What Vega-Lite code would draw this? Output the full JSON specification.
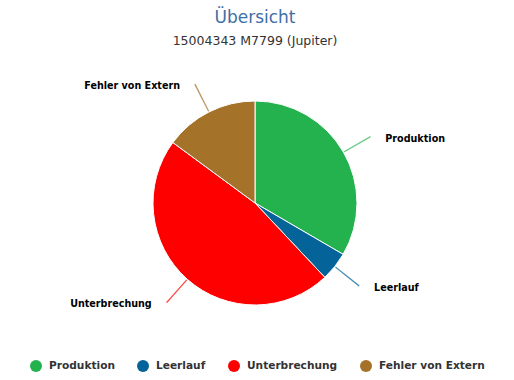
{
  "$schema": "https://vega.github.io/schema/vega-lite/v6.json",
  "width": 510,
  "height": 286,
  "autosize": "none",
  "padding": {"top": 60, "left": 0, "right": 4, "bottom": 34},
  "background": "white",
  "title": {
    "text": "Übersicht",
    "subtitle": "15004343 M7799 (Jupiter)",
    "anchor": "middle",
    "frame": "group",
    "font": "DejaVu Sans",
    "fontSize": 17,
    "fontWeight": "normal",
    "color": "#3d6fa6",
    "subtitleFont": "DejaVu Sans",
    "subtitleFontSize": 12.5,
    "subtitleColor": "#333333",
    "subtitlePadding": 8,
    "offset": 12
  },
  "data": {
    "values": [
      {"kategorie": "Produktion", "wert": 33.4, "reihenfolge": 1},
      {"kategorie": "Leerlauf", "wert": 4.6, "reihenfolge": 2},
      {"kategorie": "Unterbrechung", "wert": 47.1, "reihenfolge": 3},
      {"kategorie": "Fehler von Extern", "wert": 14.9, "reihenfolge": 4}
    ]
  },
  "transform": [
    {"window": [{"op": "sum", "field": "wert", "as": "kum"}], "sort": [{"field": "reihenfolge"}], "frame": [null, 0]},
    {"calculate": "datum.kum - datum.wert / 2", "as": "mitte"},
    {"calculate": "datum.mitte - 0.05", "as": "mitte_a"},
    {"calculate": "datum.mitte + 0.05", "as": "mitte_b"},
    {"calculate": "datum.mitte < 50 ? 'rechts' : 'links'", "as": "seite"}
  ],
  "config": {"view": {"stroke": null}},
  "layer": [
    {
      "mark": {"type": "arc", "outerRadius": 102, "stroke": "white", "strokeWidth": 1},
      "encoding": {
        "theta": {"field": "wert", "type": "quantitative", "stack": true, "scale": {"domain": [0, 100]}},
        "order": {"field": "reihenfolge", "type": "quantitative"},
        "color": {
          "field": "kategorie",
          "type": "nominal",
          "sort": ["Produktion", "Leerlauf", "Unterbrechung", "Fehler von Extern"],
          "scale": {
            "domain": ["Produktion", "Leerlauf", "Unterbrechung", "Fehler von Extern"],
            "range": ["#24b24f", "#046398", "#ff0000", "#a5722a"]
          },
          "legend": {
            "orient": "none",
            "legendX": 30,
            "legendY": 300,
            "direction": "horizontal",
            "title": null,
            "symbolType": "circle",
            "symbolSize": 144,
            "symbolStrokeWidth": 0,
            "symbolOpacity": 1,
            "labelFont": "DejaVu Sans",
            "labelFontWeight": "bold",
            "labelFontSize": 10.6,
            "labelColor": "#333333",
            "labelOffset": 7,
            "columnPadding": 22
          }
        }
      }
    },
    {
      "mark": {"type": "arc", "innerRadius": 103, "outerRadius": 133, "strokeWidth": 0.5, "opacity": 0.8},
      "encoding": {
        "theta": {"field": "mitte_a", "type": "quantitative", "scale": {"domain": [0, 100]}},
        "theta2": {"field": "mitte_b"},
        "color": {"field": "kategorie", "type": "nominal", "legend": null},
        "stroke": {"field": "kategorie", "type": "nominal", "legend": null, "scale": {
            "domain": ["Produktion", "Leerlauf", "Unterbrechung", "Fehler von Extern"],
            "range": ["#24b24f", "#046398", "#ff0000", "#a5722a"]
          }}
      }
    },
    {
      "transform": [{"filter": "datum.seite == 'rechts'"}],
      "mark": {"type": "text", "radius": 133, "align": "left", "baseline": "middle", "dx": 15, "dy": 2, "font": "DejaVu Sans", "fontWeight": "bold", "fontSize": 9.6, "color": "#000000"},
      "encoding": {
        "theta": {"field": "mitte", "type": "quantitative", "scale": {"domain": [0, 100]}},
        "text": {"field": "kategorie", "type": "nominal"}
      }
    },
    {
      "transform": [{"filter": "datum.seite == 'links'"}],
      "mark": {"type": "text", "radius": 133, "align": "right", "baseline": "middle", "dx": -15, "dy": 2, "font": "DejaVu Sans", "fontWeight": "bold", "fontSize": 9.6, "color": "#000000"},
      "encoding": {
        "theta": {"field": "mitte", "type": "quantitative", "scale": {"domain": [0, 100]}},
        "text": {"field": "kategorie", "type": "nominal"}
      }
    }
  ]
}
